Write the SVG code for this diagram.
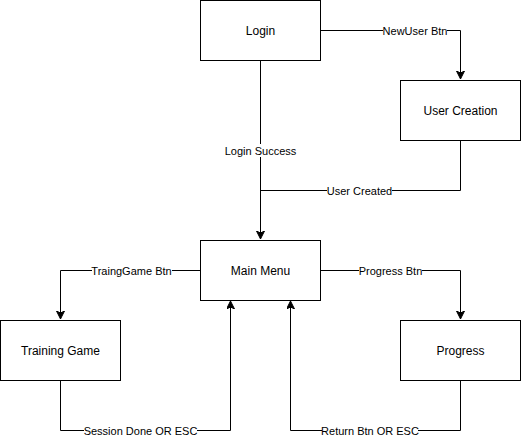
<svg xmlns="http://www.w3.org/2000/svg" width="521" height="439" viewBox="0 0 521 439">
<style>
.node rect{fill:#fff;stroke:#000;stroke-width:1}
.node text{font-family:"Liberation Sans",Arial,sans-serif;font-size:12px;fill:#000;text-anchor:middle;dominant-baseline:central}
.edge{fill:none;stroke:#000;stroke-width:1}
.lbl rect{fill:#fff}
.lbl text{font-family:"Liberation Sans",Arial,sans-serif;font-size:11px;fill:#000;text-anchor:middle;dominant-baseline:central}
</style>
<defs>
<marker id="arr" markerWidth="10" markerHeight="10" refX="8" refY="4" orient="auto" markerUnits="userSpaceOnUse">
<path d="M0,0 L8,4 L0,8 L2,4 Z" fill="#000" stroke="#000" stroke-width="1"/>
</marker>
</defs>
<rect width="521" height="439" fill="#fff"/>
<g id="connectors">
<path class="edge" d="M320.5,30.5 H460.5 V79" marker-end="url(#arr)"/>
<path class="edge" d="M260.5,60.5 V239" marker-end="url(#arr)"/>
<path class="edge" d="M460.5,140.5 V190.5 H260.5"/>
<path class="edge" d="M200.5,270.5 H60.5 V319" marker-end="url(#arr)"/>
<path class="edge" d="M320.5,270.5 H460.5 V319" marker-end="url(#arr)"/>
<path class="edge" d="M60.5,380.5 V430.5 H230.5 V301" marker-end="url(#arr)"/>
<path class="edge" d="M460.5,380.5 V430.5 H290.5 V301" marker-end="url(#arr)"/>
<g class="lbl">
<rect x="383" y="24" width="64" height="13"/><text x="415" y="30.5">NewUser Btn</text>
<rect x="225" y="144" width="71" height="13"/><text x="260.5" y="150.5">Login Success</text>
<rect x="327" y="184" width="65" height="13"/><text x="359.5" y="190.5">User Created</text>
<rect x="92" y="264" width="80" height="13"/><text x="131.5" y="270.5">TraingGame Btn</text>
<rect x="359" y="264" width="63" height="13"/><text x="390.5" y="270.5">Progress Btn</text>
<rect x="84" y="424" width="113" height="13"/><text x="140.5" y="430.5">Session Done OR ESC</text>
<rect x="322" y="424" width="96" height="13"/><text x="370" y="430.5">Return Btn OR ESC</text>
</g>
</g>
<g id="login" class="node"><rect x="200.5" y="0.5" width="120" height="60"/><text x="260.5" y="30.5">Login</text></g>
<g id="user-creation" class="node"><rect x="400.5" y="80.5" width="120" height="60"/><text x="460.5" y="110.5">User Creation</text></g>
<g id="main-menu" class="node"><rect x="200.5" y="240.5" width="120" height="60"/><text x="260.5" y="270.5">Main Menu</text></g>
<g id="training-game" class="node"><rect x="0.5" y="320.5" width="120" height="60"/><text x="60.5" y="350.5">Training Game</text></g>
<g id="progress" class="node"><rect x="400.5" y="320.5" width="120" height="60"/><text x="460.5" y="350.5">Progress</text></g>
</svg>
